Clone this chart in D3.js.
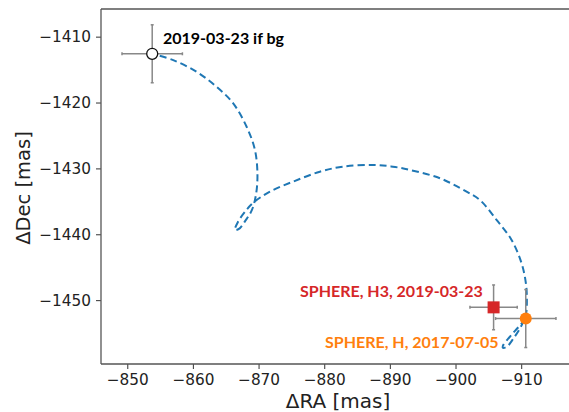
<!DOCTYPE html>
<html>
<head>
<meta charset="utf-8">
<script src="https://cdn.jsdelivr.net/npm/d3@7/dist/d3.min.js"></script>
<style>
  html, body { margin: 0; padding: 0; background: #fff; }
  svg { display: block; }
</style>
</head>
<body>
<svg id="chart" width="569" height="412"></svg>
<script>
// Background-star track (ΔRA, ΔDec in mas) from 2017-07-05 to 2019-03-23
const trackRA = [
  -910.67, -909.49, -908.28, -907.29, -907.21, -907.82, -908.89, -909.95,
  -910.71, -910.87, -910.71, -910.06, -908.54, -906.25, -903.71, -901.68,
  -897.62, -893.05, -890.46, -887.41, -882.85, -879.34, -875.23, -871.73,
  -869.14, -867.92, -866.86, -866.40, -867.01, -868.08, -868.99, -869.60,
  -869.83, -869.45, -868.18, -866.14, -863.61, -860.57, -857.00, -853.80
];
const trackDec = [
  -1452.84, -1454.20, -1455.56, -1456.78, -1457.23, -1457.08, -1455.72, -1454.05,
  -1452.23, -1449.95, -1447.38, -1444.39, -1440.86, -1437.82, -1434.79, -1433.53,
  -1431.50, -1430.24, -1429.74, -1429.48, -1429.74, -1430.50, -1432.02, -1433.53,
  -1435.25, -1436.61, -1438.13, -1439.34, -1439.19, -1437.82, -1436.31, -1434.03,
  -1431.00, -1427.21, -1423.68, -1420.13, -1417.61, -1415.34, -1413.56, -1412.60
];

// Astrometric points
const pointNames = ["bg", "h3", "h"];
const pointRA    = [-853.8, -905.8, -910.7];
const pointDec   = [-1412.6, -1451.1, -1452.8];
const pointErrRA = [4.6, 3.6, 4.6];
const pointErrDec= [4.4, 3.4, 4.4];
const pointLabels = ["2019-03-23 if bg", "SPHERE, H3, 2019-03-23", "SPHERE, H, 2017-07-05"];

// Axis ticks
const xTicks = [-850, -860, -870, -880, -890, -900, -910];
const yTicks = [-1410, -1420, -1430, -1440, -1450];

const svg = d3.select("#chart");
const mLeft = 101, mRight = 575, mTop = 9, mBottom = 364;

const x = d3.scaleLinear().domain([-846, -918.2]).range([mLeft, mRight]);
const y = d3.scaleLinear().domain([-1405.8, -1459.7]).range([mTop, mBottom]);

svg.append("defs").append("clipPath").attr("id", "plotClip")
  .append("rect").attr("x", mLeft).attr("y", mTop)
  .attr("width", mRight - mLeft).attr("height", mBottom - mTop);

const fmt = v => String(v).replace("-", "\u2212");

// Axes
const xAxis = d3.axisBottom(x).tickValues(xTicks).tickFormat(fmt).tickSizeOuter(0).tickSize(5).tickPadding(5);
const yAxis = d3.axisLeft(y).tickValues(yTicks).tickFormat(fmt).tickSizeOuter(0).tickSize(5).tickPadding(5);

const gx = svg.append("g").attr("transform", `translate(0,${mBottom})`).call(xAxis);
const gy = svg.append("g").attr("transform", `translate(${mLeft},0)`).call(yAxis);
[gx, gy].forEach(g => {
  g.select(".domain").remove();
  g.selectAll(".tick line").attr("stroke", "#444").attr("stroke-width", 1.1);
  g.selectAll(".tick text").attr("fill", "#222")
    .style("font-family", "'DejaVu Sans', sans-serif").style("font-size", "15.3px");
});

// Spines: left, top, bottom
const spine = svg.append("g").attr("stroke", "#555").attr("stroke-width", 1.3).attr("fill", "none");
spine.append("line").attr("x1", mLeft).attr("x2", mLeft).attr("y1", mTop).attr("y2", mBottom);
spine.append("line").attr("x1", mLeft).attr("x2", mRight).attr("y1", mTop).attr("y2", mTop);
spine.append("line").attr("x1", mLeft).attr("x2", mRight).attr("y1", mBottom).attr("y2", mBottom);

// Axis titles
svg.append("text").attr("x", 338).attr("y", 408)
  .attr("text-anchor", "middle").attr("fill", "#222")
  .style("font-family", "'DejaVu Sans', sans-serif").style("font-size", "20px")
  .text("ΔRA [mas]");
svg.append("text").attr("transform", `translate(29.5,188) rotate(-90)`)
  .attr("text-anchor", "middle").attr("fill", "#222")
  .style("font-family", "'DejaVu Sans', sans-serif").style("font-size", "19.5px")
  .text("ΔDec [mas]");

const plot = svg.append("g").attr("clip-path", "url(#plotClip)");

// Track
const track = trackRA.map((r, i) => [r, trackDec[i]]);
plot.append("path")
  .datum(track)
  .attr("d", d3.line().x(d => x(d[0])).y(d => y(d[1])).curve(d3.curveCatmullRom.alpha(0.5)))
  .attr("fill", "none").attr("stroke", "#1f77b4").attr("stroke-width", 2)
  .attr("stroke-dasharray", "7,4");

// Error bars
const eb = plot.append("g").attr("stroke", "#888").attr("stroke-width", 1.5);
pointNames.forEach((n, i) => {
  const cx = x(pointRA[i]), cy = y(pointDec[i]);
  const x0 = x(pointRA[i] + pointErrRA[i]), x1 = x(pointRA[i] - pointErrRA[i]);
  const y0 = y(pointDec[i] + pointErrDec[i]), y1 = y(pointDec[i] - pointErrDec[i]);
  eb.append("line").attr("x1", x0).attr("x2", x1).attr("y1", cy).attr("y2", cy);
  eb.append("line").attr("x1", cx).attr("x2", cx).attr("y1", y0).attr("y2", y1);
  // small caps
  eb.append("line").attr("x1", x0).attr("x2", x0).attr("y1", cy - 1.5).attr("y2", cy + 1.5);
  eb.append("line").attr("x1", x1).attr("x2", x1).attr("y1", cy - 1.5).attr("y2", cy + 1.5);
  eb.append("line").attr("x1", cx - 1.5).attr("x2", cx + 1.5).attr("y1", y0).attr("y2", y0);
  eb.append("line").attr("x1", cx - 1.5).attr("x2", cx + 1.5).attr("y1", y1).attr("y2", y1);
});

// Markers
plot.append("circle").attr("cx", x(pointRA[0])).attr("cy", y(pointDec[0])).attr("r", 5.5)
  .attr("fill", "#fff").attr("stroke", "#111").attr("stroke-width", 1.3);
plot.append("rect").attr("x", x(pointRA[1]) - 6).attr("y", y(pointDec[1]) - 6)
  .attr("width", 12).attr("height", 12).attr("fill", "#d62728");
plot.append("circle").attr("cx", x(pointRA[2])).attr("cy", y(pointDec[2])).attr("r", 6)
  .attr("fill", "#ff7f0e");

// Annotations
const labelFont = "Lato, 'Open Sans', sans-serif";
svg.append("text").attr("x", 163).attr("y", 43.5).attr("fill", "#000")
  .style("font-family", labelFont).style("font-weight", "bold").style("font-size", "16px")
  .text(pointLabels[0]);
svg.append("text").attr("x", 300).attr("y", 297).attr("fill", "#d62728")
  .style("font-family", labelFont).style("font-weight", "bold").style("font-size", "16px")
  .text(pointLabels[1]);
svg.append("text").attr("x", 325).attr("y", 347.5).attr("fill", "#ff7f0e")
  .style("font-family", labelFont).style("font-weight", "bold").style("font-size", "16px")
  .text(pointLabels[2]);
</script>
</body>
</html>
